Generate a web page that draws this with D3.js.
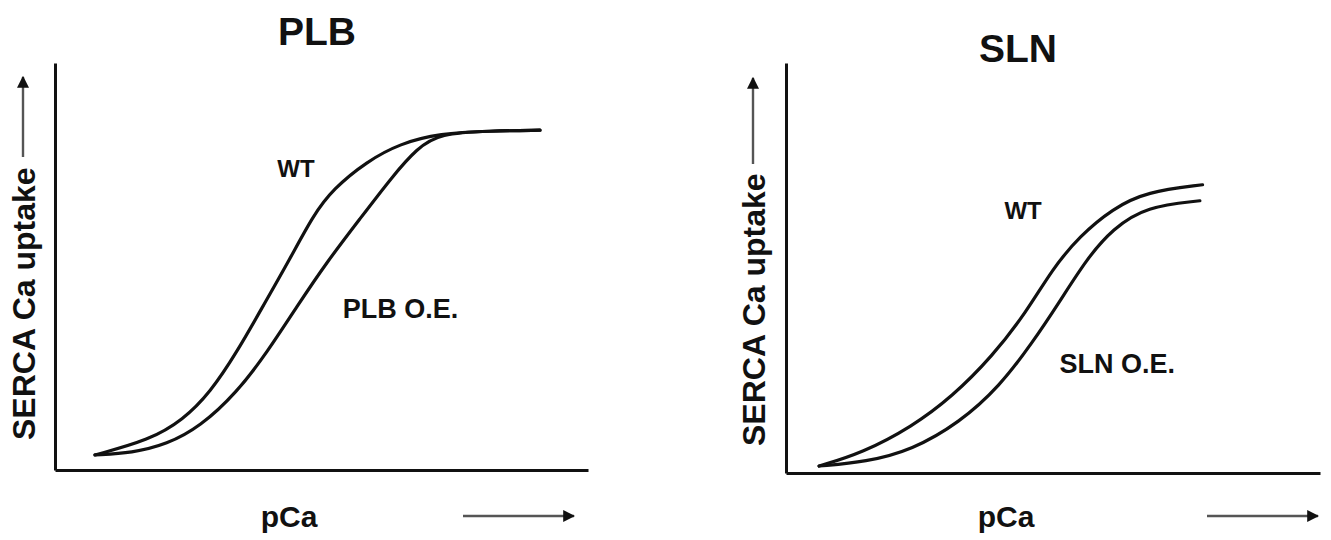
<!DOCTYPE html>
<html>
<head>
<meta charset="utf-8">
<script src="https://cdn.jsdelivr.net/npm/d3@7"></script>
<style>
  body { margin: 0; background: #fff; }
  text { font-family: "Liberation Sans", Arial, sans-serif; font-weight: bold; fill: #111; }
</style>
</head>
<body>
<svg id="chart" width="1331" height="540"></svg>
<script>
// values, x and y in arbitrary units (0-100)
var titles = ["PLB", "SLN"];
var curveLabels = [["WT", "PLB O.E."], ["WT", "SLN O.E."]];
var xLabel = "pCa";
var yLabel = "SERCA Ca uptake";

var plbWtX = [7.5, 17.8, 24.0, 29.1, 34.1, 39.0, 44.1, 48.4, 52.2, 58.5, 64.7, 72.2, 81.6, 91.0];
var plbWtY = [3.7, 7.4, 12.3, 19.0, 28.9, 40.2, 51.9, 62.5, 69.1, 75.8, 80.2, 82.7, 83.3, 83.5];
var plbOeX = [7.5, 14.5, 21.0, 27.2, 34.1, 39.8, 45.4, 51.0, 57.2, 63.4, 67.9, 72.2, 81.6, 91.0];
var plbOeY = [3.7, 4.2, 6.3, 10.6, 19.0, 28.9, 40.2, 51.1, 61.7, 72.3, 79.0, 82.7, 83.3, 83.5];

var slnWtX = [6.2, 14.3, 23.6, 31.1, 38.6, 45.0, 49.9, 55.0, 61.2, 67.5, 78.0];
var slnWtY = [1.7, 4.9, 11.3, 18.6, 28.4, 39.2, 49.8, 57.8, 64.5, 68.6, 70.3];
var slnOeX = [6.2, 15.0, 23.6, 32.5, 40.0, 46.2, 51.2, 56.3, 61.2, 67.5, 77.5];
var slnOeY = [1.7, 2.7, 5.6, 12.3, 21.1, 31.9, 41.7, 52.2, 59.6, 65.0, 66.4];

// label positions in data units
var labelPos = [[[41.7, 74.1], [54.0, 39.5]], [[40.9, 64.0], [51.2, 26.5]]];

function zip(xs, ys) { return xs.map(function(x, i) { return [x, ys[i]]; }); }

var panels = [
  { left: 55, right: 588, top: 63, bottom: 470, titleY: 45, titleX: 317,
    series: [zip(plbWtX, plbWtY), zip(plbOeX, plbOeY)],
    yLab: 24, yLabStart: 440, yArrow: [157, 77], xLabX: 289, arrowX: [463, 574] },
  { left: 786, right: 1320, top: 63, bottom: 473, titleY: 62, titleX: 1018,
    series: [zip(slnWtX, slnWtY), zip(slnOeX, slnOeY)],
    yLab: 754, yLabStart: 446, yArrow: [164, 78], xLabX: 1006, arrowX: [1207, 1318] }
];
var labelSize = [24, 27];

var svg = d3.select("#chart");

svg.append("defs").append("marker")
    .attr("id", "head")
    .attr("viewBox", "0 0 10 10")
    .attr("refX", 9).attr("refY", 5)
    .attr("markerWidth", 5).attr("markerHeight", 5)
    .attr("markerUnits", "strokeWidth")
    .attr("orient", "auto")
  .append("path")
    .attr("d", "M0,0 L10,5 L0,10 z")
    .attr("fill", "#111");

panels.forEach(function(p, k)
{
    var x = d3.scaleLinear().domain([0, 100]).range([p.left, p.right]);
    var y = d3.scaleLinear().domain([0, 100]).range([p.bottom, p.top]);

    // axes without ticks
    svg.append("g")
        .attr("transform", "translate(0," + p.bottom + ")")
        .call(d3.axisBottom(x).tickValues([]).tickSizeOuter(0));
    svg.append("g")
        .attr("transform", "translate(" + p.left + ",0)")
        .call(d3.axisLeft(y).tickValues([]).tickSizeOuter(0));
    svg.selectAll(".domain").attr("stroke", "#111").attr("stroke-width", 3);

    // curves
    var line = d3.line()
        .x(function(d) { return x(d[0]); })
        .y(function(d) { return y(d[1]); })
        .curve(d3.curveBasis);

    p.series.forEach(function(s) {
        svg.append("path")
            .datum(s)
            .attr("d", line)
            .attr("fill", "none")
            .attr("stroke", "#111")
            .attr("stroke-width", 3.2)
            .attr("stroke-linecap", "round");
    });

    // curve labels
    curveLabels[k].forEach(function(t, i) {
        svg.append("text")
            .attr("x", x(labelPos[k][i][0]))
            .attr("y", y(labelPos[k][i][1]))
            .attr("dominant-baseline", "central")
            .style("font-size", labelSize[i] + "px")
            .text(t);
    });

    // title
    svg.append("text")
        .attr("x", p.titleX)
        .attr("y", p.titleY)
        .attr("text-anchor", "middle")
        .style("font-size", "39px")
        .text(titles[k]);

    // x label and arrow
    svg.append("text")
        .attr("x", p.xLabX)
        .attr("y", 527)
        .attr("text-anchor", "middle")
        .style("font-size", "30px")
        .text(xLabel);

    svg.append("line")
        .attr("x1", p.arrowX[0]).attr("x2", p.arrowX[1])
        .attr("y1", 516).attr("y2", 516)
        .attr("stroke", "#555").attr("stroke-width", 2.4)
        .attr("marker-end", "url(#head)");

    // y label and arrow
    svg.append("text")
        .attr("transform", "translate(" + p.yLab + "," + p.yLabStart + ") rotate(-90)")
        .attr("dominant-baseline", "central")
        .attr("text-anchor", "start")
        .style("font-size", "32px")
        .text(yLabel);

    svg.append("line")
        .attr("x1", p.yLab - 1).attr("x2", p.yLab - 1)
        .attr("y1", p.yArrow[0]).attr("y2", p.yArrow[1])
        .attr("stroke", "#555").attr("stroke-width", 2.4)
        .attr("marker-end", "url(#head)");
});
</script>
</body>
</html>
